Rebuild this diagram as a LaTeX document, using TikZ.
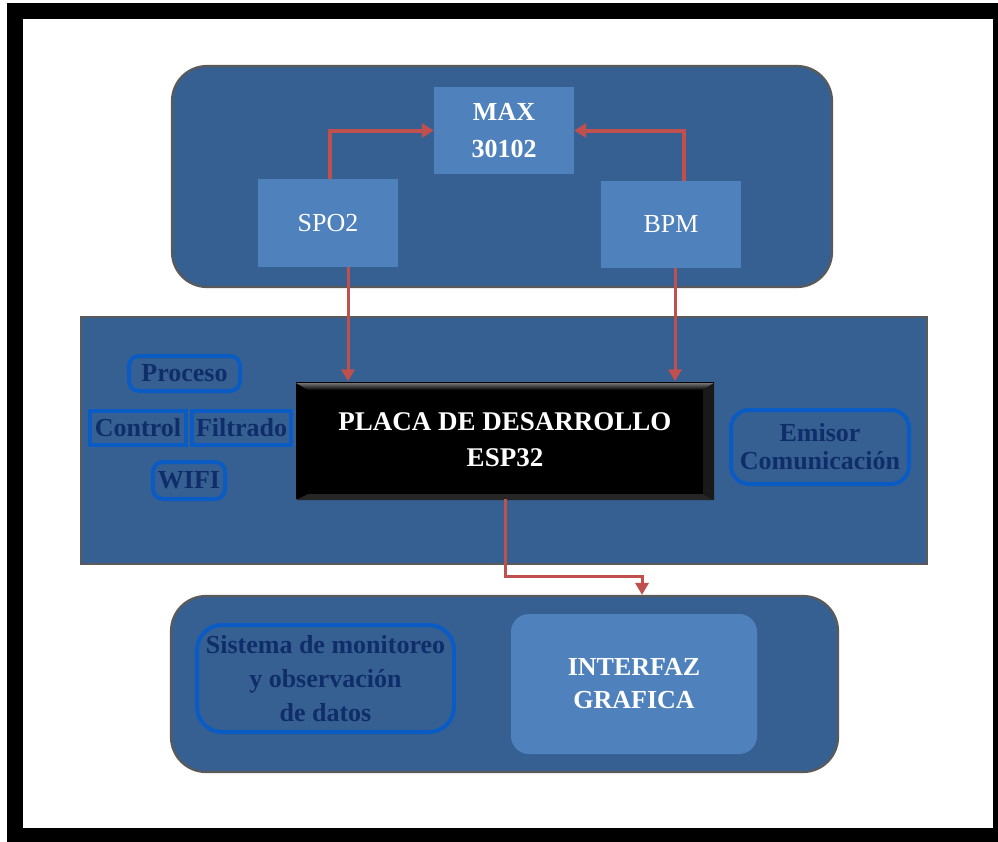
\documentclass[tikz,border=0pt]{standalone}
\usepackage{fontspec}
\setmainfont{Liberation Serif}
\usetikzlibrary{arrows.meta,calc}
\definecolor{panel}{HTML}{366092}
\definecolor{innerblue}{HTML}{4F81BD}
\definecolor{arrowred}{HTML}{C0504D}
\definecolor{framegray}{HTML}{5A5A5A}
\definecolor{navy}{HTML}{0F2D69}
\definecolor{tagline}{HTML}{0A5BC4}
\begin{document}
\begin{tikzpicture}[x=1pt,y=-1pt,
  panelbox/.style={draw=framegray,line width=2.2pt,fill=panel,inner sep=0pt},
  lightbox/.style={fill=innerblue,inner sep=0pt,text=white,align=center},
  tagbox/.style={draw=tagline,line width=4pt,fill=panel,inner sep=0pt,text=navy,align=center},
  link/.style={draw=arrowred,line width=4pt,-{Triangle[length=12pt,width=14pt]}},
  thinlink/.style={draw=arrowred,line width=3pt,-{Triangle[length=12pt,width=13pt]}},
]
\useasboundingbox (0,0) rectangle (998,841);
% outer frame
\fill[white] (0,0) rectangle (998,841);
\fill[black] (7,3) rectangle (1010,850);
\fill[white] (23,19) rectangle (993,828);

% panels
\node[panelbox,rounded corners=35pt,minimum width=660pt,minimum height=221pt] (toppanel) at (502,176.5) {};
\node[panelbox,minimum width=846pt,minimum height=247pt] (midpanel) at (504,440.5) {};
\node[panelbox,rounded corners=35pt,minimum width=667pt,minimum height=176pt] (botpanel) at (504.5,684) {};

% top blocks
\node[lightbox,minimum width=140pt,minimum height=87pt,font=\bfseries\fontsize{26}{37}\selectfont] (max) at (504,130.5) {MAX\\30102};
\node[lightbox,minimum width=140pt,minimum height=88pt,font=\fontsize{26}{30}\selectfont] (spo2) at (328,223) {SPO2};
\node[lightbox,minimum width=140pt,minimum height=87pt,font=\fontsize{26}{30}\selectfont] (bpm) at (671,224.5) {BPM};

% ESP32 board
\node[fill=black,inner sep=0pt,minimum width=418pt,minimum height=117pt,text=white,align=center,font=\bfseries\fontsize{27}{36}\selectfont] (esp) at (505,440) {PLACA DE DESARROLLO\\ESP32};
\shade[top color=black!55,bottom color=black] (296,383) -- (714,383) -- (703,390) -- (308,390) -- cycle;
\fill[black!85] (296,500) -- (714,500) -- (703,494) -- (308,494) -- cycle;
\fill[black!90] (703,390) -- (714,383) -- (714,500) -- (703,494) -- cycle;

% tags in middle panel
\node[tagbox,rounded corners=10pt,minimum width=111pt,minimum height=35pt,font=\bfseries\fontsize{26}{30}\selectfont] (proceso) at (184.5,373.5) {Proceso};
\node[tagbox,minimum width=96pt,minimum height=34pt,font=\bfseries\fontsize{26}{30}\selectfont] (control) at (138,428) {Control};
\node[tagbox,minimum width=99pt,minimum height=34pt,font=\bfseries\fontsize{26}{30}\selectfont] (filtrado) at (241.5,428) {Filtrado};
\node[tagbox,rounded corners=10pt,minimum width=72pt,minimum height=37pt,font=\bfseries\fontsize{26}{30}\selectfont] (wifi) at (189,480.5) {WIFI};
\node[tagbox,rounded corners=18pt,minimum width=178pt,minimum height=74pt,font=\bfseries\fontsize{26}{28}\selectfont] (emisor) at (820,447) {Emisor\\Comunicación};

% bottom panel content
\node[tagbox,rounded corners=25pt,minimum width=257pt,minimum height=107pt,font=\bfseries\fontsize{26}{34}\selectfont] (sistema) at (325.5,678.5) {\raisebox{-4pt}{\parbox{250pt}{\centering Sistema de monitoreo\\y observación\\de datos}}};
\node[lightbox,rounded corners=18pt,minimum width=246pt,minimum height=140pt,font=\bfseries\fontsize{26}{33}\selectfont] (gui) at (634,684) {INTERFAZ\\GRAFICA};

% connectors
\draw[link] ($(spo2.north)+(2,0)$) |- (max.west);
\draw[link] ($(bpm.north)+(13,0)$) |- (max.east);
\coordinate (s1) at ($(spo2.south)+(20,0)$);
\draw[thinlink] (s1) -- (s1 |- esp.north);
\coordinate (b1) at ($(bpm.south)+(4,0)$);
\draw[thinlink] (b1) -- (b1 |- esp.north);
\coordinate (o1) at ($(botpanel.north)+(137.5,0)$);
\coordinate (bend) at (505,576);
\draw[thinlink] (esp.south) -- (esp.south |- bend) -| (o1);
\end{tikzpicture}
\end{document}
